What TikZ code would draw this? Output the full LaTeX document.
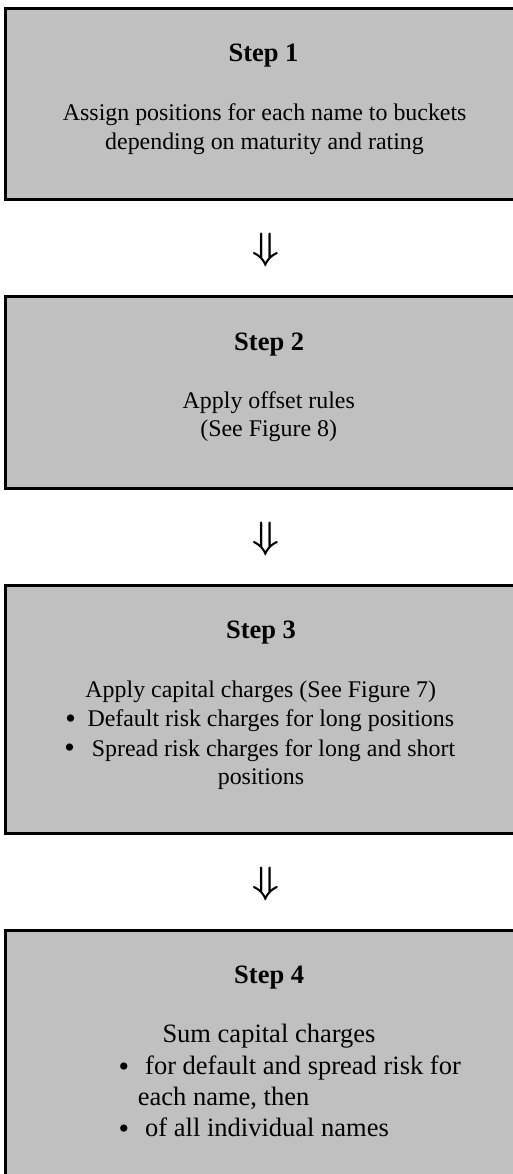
\documentclass[tikz,border=0pt]{standalone}
\usepackage{graphicx}
\usepackage{fontspec}
\setmainfont{Liberation Serif}
\definecolor{boxgray}{RGB}{192,192,192}
\begin{document}
\begin{tikzpicture}[x=1pt,y=-1pt,
  stepbox/.style={draw=black, line width=3pt, fill=boxgray, rectangle,
    inner sep=0pt, outer sep=0pt, anchor=north west, minimum width=530pt},
  heading/.style={font=\fontsize{26.5}{30}\selectfont\bfseries, inner sep=0pt, anchor=base},
  bodyline/.style={font=\fontsize{23.9}{28}\selectfont, inner sep=0pt, anchor=base},
  bodyleft/.style={bodyline, anchor=base west},
  biglist/.style={font=\fontsize{26.5}{31}\selectfont, inner sep=0pt, anchor=base west},
  dot/.style={font=\fontsize{30}{30}\selectfont, inner sep=0pt, anchor=base west},
  dnarrow/.style={inner sep=0pt, anchor=center}
]
\useasboundingbox (0,0) rectangle (512,1174);

% Step 1
\node[stepbox, minimum height=191pt] (box1) at (5.5,9) {};
\node[heading] (h1) at (263.5,62) {Step 1};
\node[bodyline] (b1a) at (264.7,121) {Assign positions for each name to buckets};
\node[bodyline] (b1b) at (264.5,149.5) {depending on maturity and rating};

\node[dnarrow] (a1) at (266,250) {\scalebox{3.8}{\boldmath$\Downarrow$}};

% Step 2
\node[stepbox, minimum height=192pt] (box2) at (5.5,296.5) {};
\node[heading] (h2) at (269.2,350) {Step 2};
\node[bodyline] (b2a) at (268.8,408) {Apply offset rules};
\node[bodyline] (b2b) at (268.7,436) {(See Figure 8)};

\node[dnarrow] (a2) at (266,538.5) {\scalebox{3.8}{\boldmath$\Downarrow$}};

% Step 3
\node[stepbox, minimum height=248.5pt] (box3) at (5.5,585) {};
\node[heading] (h3) at (261,638) {Step 3};
\node[bodyline] (b3a) at (260.8,697.3) {Apply capital charges (See Figure 7)};
\node[dot] (d3b) at (65.2,728.3) {\smash{•}};
\node[bodyleft] (b3b) at (87.3,726.7) {Default risk charges for long positions};
\node[dot] (d3c) at (64.2,757.3) {\smash{•}};
\node[bodyleft] (b3c) at (91.7,756) {Spread risk charges for long and short};
\node[bodyline] (b3d) at (261,784) {positions};

\node[dnarrow] (a3) at (266,884) {\scalebox{3.8}{\boldmath$\Downarrow$}};

% Step 4
\node[stepbox, minimum height=262pt] (box4) at (5.5,930) {};
\node[heading] (h4) at (269.2,983) {Step 4};
\node[biglist] (b4a) at (162.3,1042.7) {Sum capital charges};
\node[dot] (d4b) at (118.5,1076.8) {\smash{•}};
\node[biglist] (b4b) at (145,1074) {for default and spread risk for};
\node[biglist] (b4c) at (137.7,1105.7) {each name, then};
\node[dot] (d4d) at (118.5,1138.3) {\smash{•}};
\node[biglist] (b4d) at (145,1136) {of all individual names};
\end{tikzpicture}
\end{document}
